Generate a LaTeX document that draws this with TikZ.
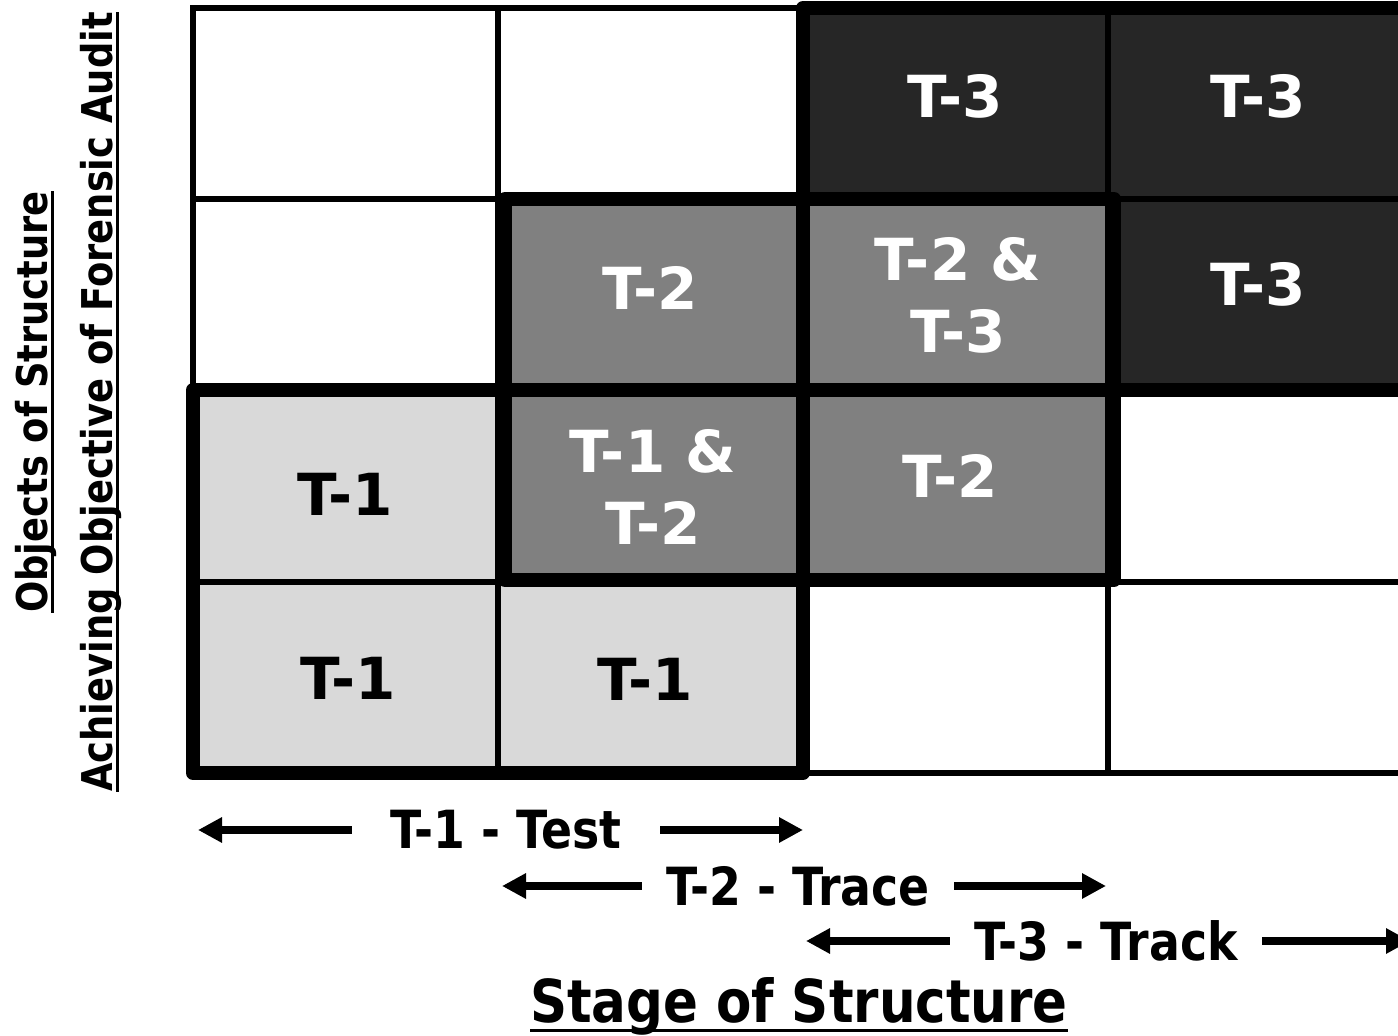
\documentclass[tikz,border=0pt]{standalone}
\usepackage{fontspec}
\setmainfont{DejaVu Sans}
\newfontfamily\narrowfont{DejaVu Sans}[FakeStretch=0.87]
\usepackage{tikz}
\usetikzlibrary{arrows.meta}

\newcommand\ulbar[2][4pt]{\setbox0\hbox{#2}\rlap{\rule[-#1]{\wd0}{1.5pt}}\box0}

\tikzset{
    gridline/.style={line width=3.2pt, line cap=rect},
    stagebox/.style={line width=7pt, line join=round},
    lite/.style={fill=black!15},
    mid/.style={fill=black!50},
    dark/.style={fill=black!85},
    tag/.style={font=\fontsize{29}{36}\selectfont\bfseries, align=center},
    stagelabel/.style={font=\narrowfont\fontsize{26.3}{30}\selectfont\bfseries, inner ysep=0pt, inner xsep=12pt},
    stagearrow/.style={line width=4pt, -{Triangle[length=12pt,width=12pt]}},
}

\begin{document}
\begin{tikzpicture}[x=0.5pt, y=-0.5pt]
    \useasboundingbox (0,0) rectangle (1398,1036);

    \fill[dark] (803,8) rectangle (1430,390);
    \fill[mid] (498,199) rectangle (1108,582);
    \fill[lite] (193,390) rectangle (498,773);
    \fill[lite] (498,582) rectangle (803,773);

    \foreach \x in {193,498,803,1108}
        \draw[gridline] (\x,8) -- (\x,773);
    \foreach \y in {8,199,390,582,773}
        \draw[gridline] (193,\y) -- (1430,\y);

    \draw[stagebox] (803,8) rectangle (1440,390);
    \draw[stagebox] (505,199) rectangle (1114,580);
    \draw[stagebox] (193,390) rectangle (803,773);

    \node[tag, white] (d13) at (955,96)  {T-3};
    \node[tag, white] (d14) at (1258,96) {T-3};
    \node[tag, white] (m22) at (650,288) {T-2};
    \node[tag, white] (m23) at (958,295) {T-2 \&\\T-3};
    \node[tag, white] (d24) at (1258,284) {T-3};
    \node[tag]        (l31) at (345,494) {T-1};
    \node[tag, white] (m32) at (653,487) {T-1 \&\\T-2};
    \node[tag, white] (m33) at (950,476) {T-2};
    \node[tag]        (l41) at (348,678) {T-1};
    \node[tag]        (l42) at (645,679) {T-1};

    \node[rotate=90, align=center, font=\narrowfont\fontsize{21.2}{32.5}\selectfont\bfseries]
        (objects) at (68,402) {\ulbar[3.5pt]{Objects of Structure}\\\ulbar[3.5pt]{Achieving Objective of Forensic Audit}};
    \node[anchor=base, font=\narrowfont\fontsize{29.6}{34}\selectfont\bfseries]
        (stage) at (799,1022) {\ulbar[5pt]{Stage of Structure}};

    \node[stagelabel, inner xsep=19pt] (test) at (506,830) {T-1 - Test};
    \node[stagelabel] (trace) at (798,886) {T-2 - Trace};
    \node[stagelabel] (track) at (1106,941) {T-3 - Track};
    \coordinate (testL)  at (198,830);
    \coordinate (testR)  at (803,830);
    \coordinate (traceL) at (502,886);
    \coordinate (traceR) at (1106,886);
    \coordinate (trackL) at (806,941);
    \coordinate (trackR) at (1410,941);

    \draw[stagearrow] (test.west) -- (testL);
    \draw[stagearrow] (test.east) -- (testR);
    \draw[stagearrow] (trace.west) -- (traceL);
    \draw[stagearrow] (trace.east) -- (traceR);
    \draw[stagearrow] (track.west) -- (trackL);
    \draw[stagearrow] (track.east) -- (trackR);
\end{tikzpicture}
\end{document}
